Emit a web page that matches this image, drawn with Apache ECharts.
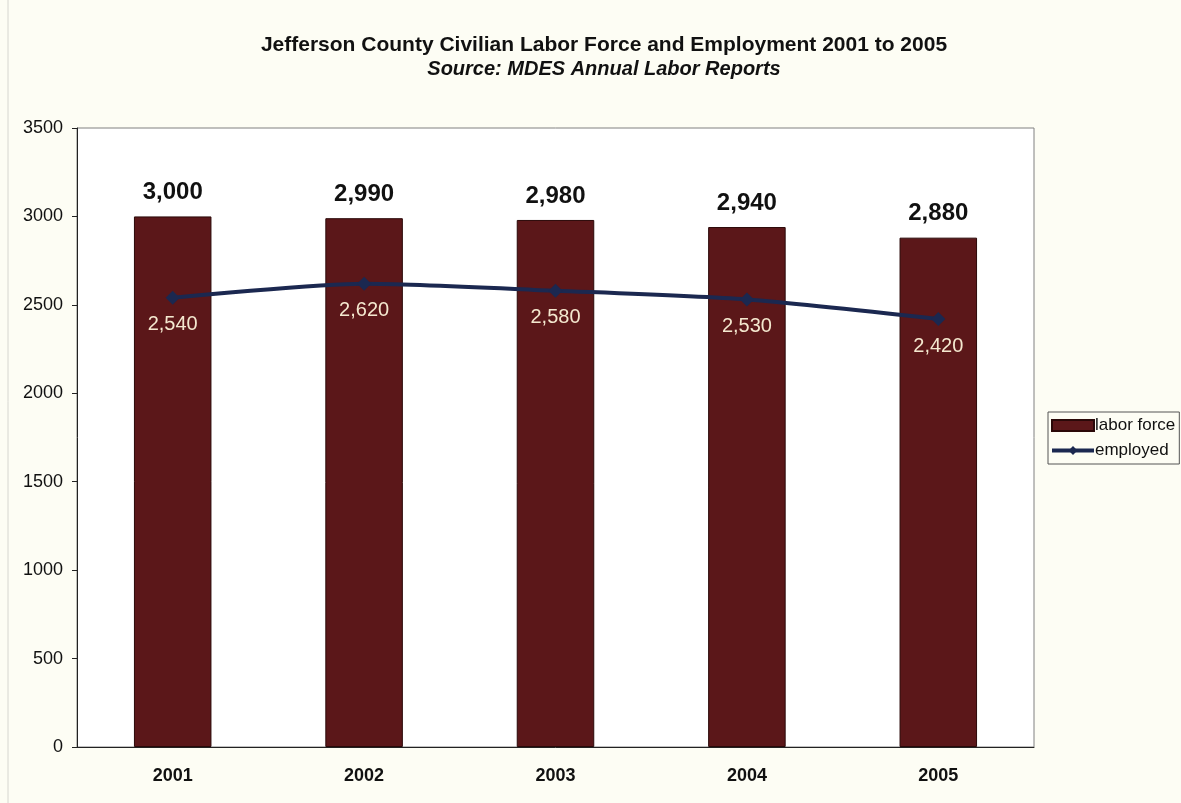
<!DOCTYPE html>
<html>
<head>
<meta charset="utf-8">
<script src="https://cdn.jsdelivr.net/npm/echarts@6/dist/echarts.min.js"></script>
<style>
  html, body { margin: 0; padding: 0; background: #fdfdf4; }
  #chart { width: 1181px; height: 803px; }
</style>
</head>
<body>
<div id="chart"></div>
<script>
// Jefferson County labour figures, 2001-2005
const years = ['2001', '2002', '2003', '2004', '2005'];
const laborForce = [3000, 2990, 2980, 2940, 2880];
const employed = [2540, 2620, 2580, 2530, 2420];
const yTicks = { min: 0, max: 3500, interval: 500 };

const fmt = v => v.toLocaleString('en-US');
const font = 'Arial, "Liberation Sans", sans-serif';

const chart = echarts.init(document.getElementById('chart'));
chart.setOption({
  backgroundColor: '#fdfdf4',
  animation: false,
  textStyle: { fontFamily: font },
  title: [
    {
      text: 'Jefferson County Civilian Labor Force and Employment 2001 to 2005',
      left: 599, top: 30, textAlign: 'center',
      textStyle: { fontSize: 21, fontWeight: 'bold', color: '#111', fontFamily: font }
    },
    {
      text: 'Source: MDES Annual Labor Reports',
      left: 599, top: 54, textAlign: 'center',
      textStyle: { fontSize: 20, fontWeight: 'bold', fontStyle: 'italic', color: '#111', fontFamily: font }
    }
  ],
  graphic: [
    { type: 'line', shape: { x1: 8, y1: 0, x2: 8, y2: 803 }, style: { stroke: '#d6d6d0', lineWidth: 1 } }
  ],
  legend: {
    orient: 'vertical',
    left: 1048, top: 412,
    itemWidth: 42, itemHeight: 11, itemGap: 8,
    padding: [5, 4, 5, 2],
    borderColor: '#555', borderWidth: 1,
    backgroundColor: '#fdfdf4',
    textStyle: { fontSize: 17, color: '#111', fontFamily: font, padding: [0, 0, 0, -4] },
    data: [
      { name: 'labor force', icon: 'rect' },
      { name: 'employed', lineStyle: { width: 4 } }
    ]
  },
  grid: {
    left: 77, top: 128, right: 147, bottom: 56,
    show: true, backgroundColor: '#ffffff', borderColor: '#808080', borderWidth: 1
  },
  xAxis: {
    type: 'category',
    data: years,
    axisLine: { lineStyle: { color: '#222', width: 1 } },
    axisTick: { length: 6, lineStyle: { color: '#222' } },
    axisLabel: { fontSize: 18, fontWeight: 'bold', color: '#111', margin: 20 }
  },
  yAxis: {
    type: 'value',
    min: yTicks.min, max: yTicks.max, interval: yTicks.interval,
    splitLine: { show: false },
    axisLine: { show: true, lineStyle: { color: '#222', width: 1 } },
    axisTick: { show: true, length: 5, lineStyle: { color: '#222' } },
    axisLabel: { fontSize: 18, color: '#111', margin: 14, formatter: v => String(v) }
  },
  series: [
    {
      name: 'labor force',
      type: 'bar',
      data: laborForce,
      barWidth: '40.5%',
      itemStyle: { color: '#5b1719', borderColor: '#2a0808', borderWidth: 1 },
      label: {
        show: true, position: 'top', distance: 12,
        formatter: p => fmt(p.value),
        fontSize: 24, fontWeight: 'bold', color: '#111', fontFamily: font
      }
    },
    {
      name: 'employed',
      type: 'line',
      data: employed,
      smooth: 0.25,
      symbol: 'diamond',
      symbolSize: 14,
      lineStyle: { color: '#1b2850', width: 4 },
      itemStyle: { color: '#1b2850' },
      label: {
        show: true, position: 'bottom', distance: 10,
        formatter: p => fmt(p.value),
        fontSize: 20, color: '#f4e8cf', fontFamily: font
      },
      z: 3
    }
  ]
});
</script>
</body>
</html>
